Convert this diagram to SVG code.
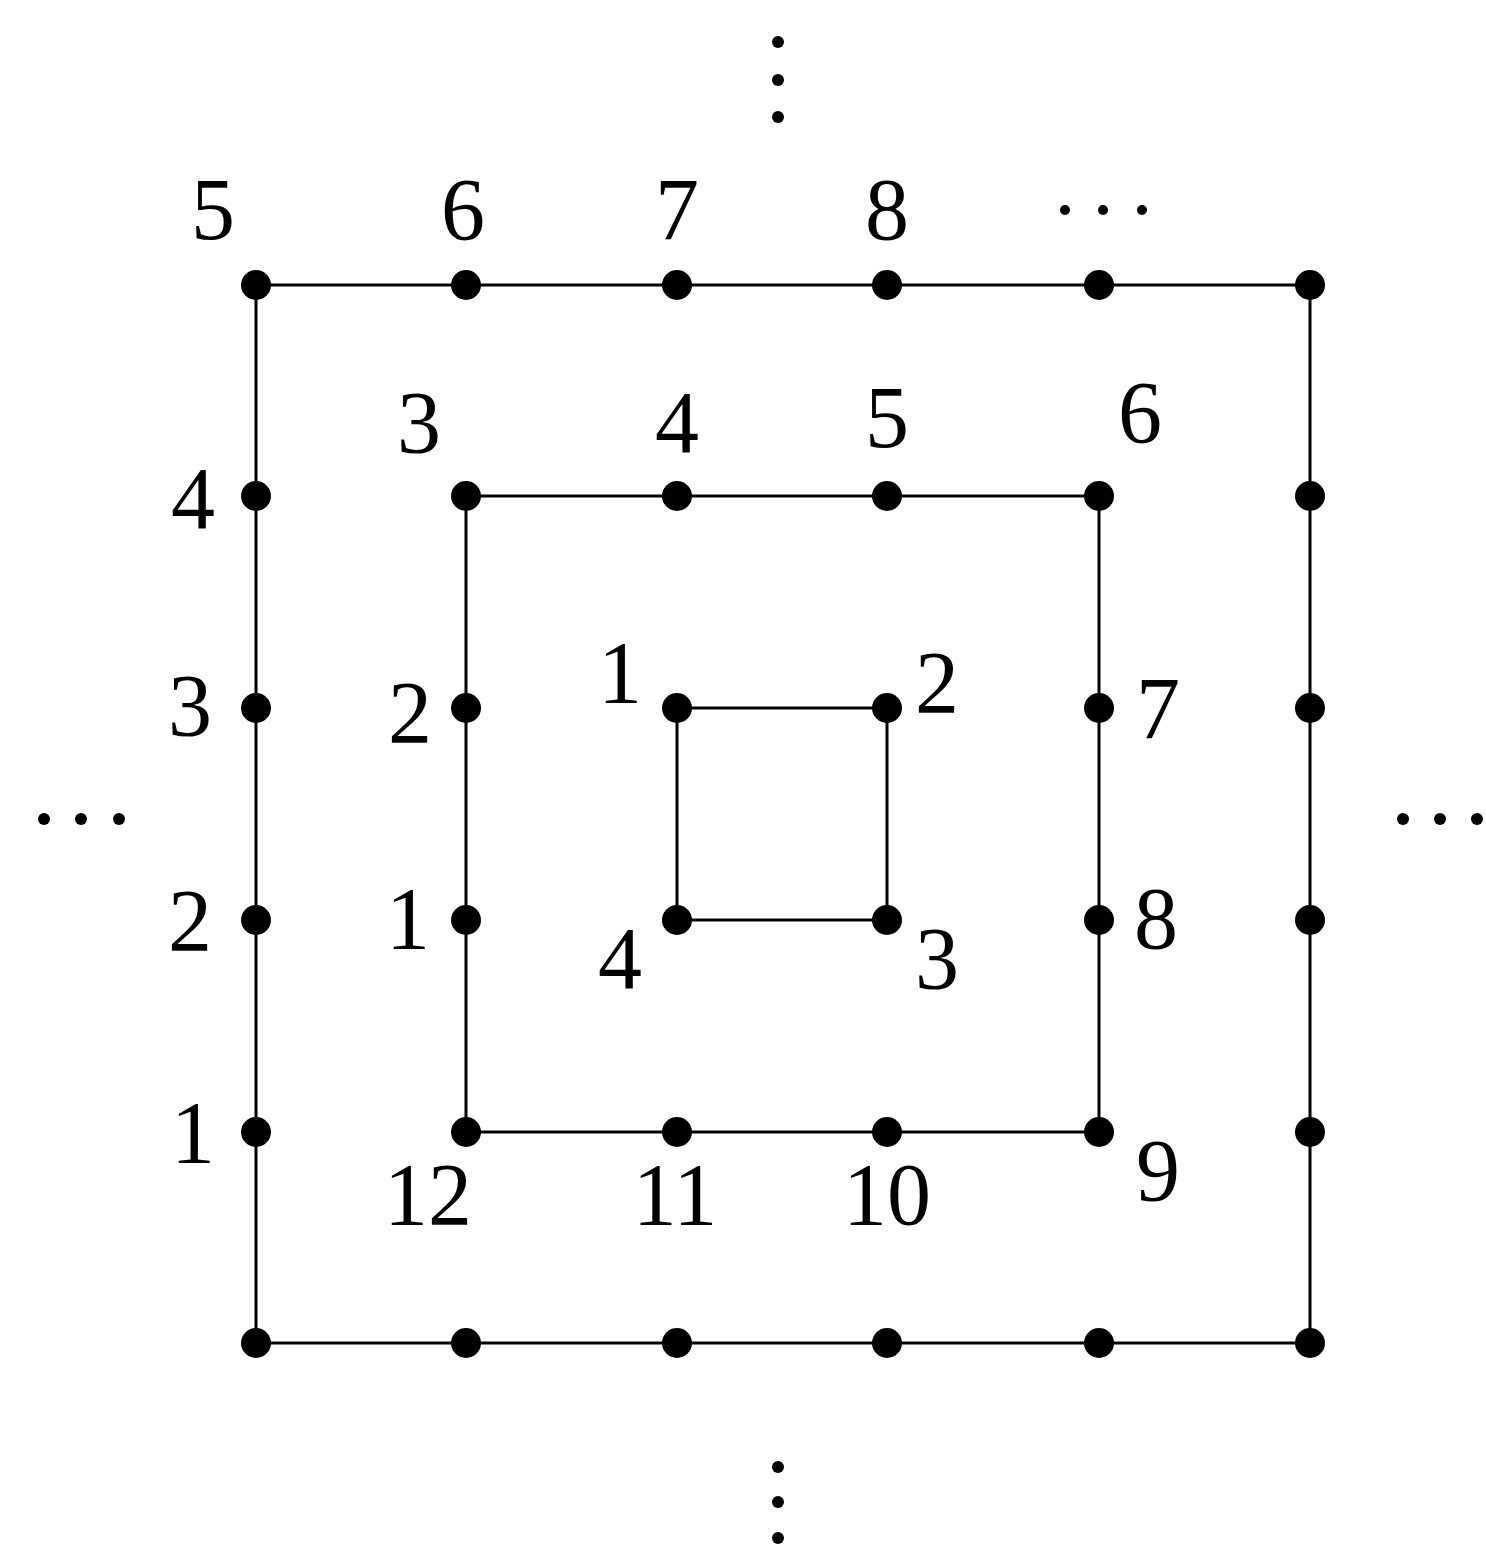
<svg xmlns="http://www.w3.org/2000/svg" width="1486" height="1564" viewBox="0 0 1486 1564">
<style>
.e{fill:none;stroke:#000;stroke-width:3}
.d{fill:#000}
.s{fill:#000}
text{font-family:"Liberation Serif","DejaVu Serif",serif;font-size:88px;fill:#000;text-anchor:middle}
</style>
<rect width="1486" height="1564" fill="#fff"/>
<g id="connectors">
<rect class="e" x="256" y="285" width="1054" height="1058"/>
<rect class="e" x="466" y="496" width="633" height="636"/>
<rect class="e" x="677" y="708" width="210" height="212"/>
</g>
<g id="outer-square">
<g id="o-top"><circle class="d" cx="256" cy="285" r="15"/><circle class="d" cx="466" cy="285" r="15"/><circle class="d" cx="677" cy="285" r="15"/><circle class="d" cx="887" cy="285" r="15"/><circle class="d" cx="1099" cy="285" r="15"/><circle class="d" cx="1310" cy="285" r="15"/></g>
<g id="o-bottom"><circle class="d" cx="256" cy="1343" r="15"/><circle class="d" cx="466" cy="1343" r="15"/><circle class="d" cx="677" cy="1343" r="15"/><circle class="d" cx="887" cy="1343" r="15"/><circle class="d" cx="1099" cy="1343" r="15"/><circle class="d" cx="1310" cy="1343" r="15"/></g>
<g id="o-left"><circle class="d" cx="256" cy="496" r="15"/><circle class="d" cx="256" cy="708" r="15"/><circle class="d" cx="256" cy="920" r="15"/><circle class="d" cx="256" cy="1132" r="15"/></g>
<g id="o-right"><circle class="d" cx="1310" cy="496" r="15"/><circle class="d" cx="1310" cy="708" r="15"/><circle class="d" cx="1310" cy="920" r="15"/><circle class="d" cx="1310" cy="1132" r="15"/></g>
<g id="o-labels">
<text x="213" y="239">5</text><text x="463" y="239">6</text><text x="677" y="239">7</text><text x="887" y="239">8</text>
<text x="193" y="528">4</text><text x="190" y="735">3</text><text x="190" y="950">2</text><text x="193" y="1162">1</text>
</g>
</g>
<g id="middle-square">
<g id="m-dots">
<circle class="d" cx="466" cy="496" r="15"/><circle class="d" cx="677" cy="496" r="15"/><circle class="d" cx="887" cy="496" r="15"/><circle class="d" cx="1099" cy="496" r="15"/>
<circle class="d" cx="466" cy="708" r="15"/><circle class="d" cx="466" cy="920" r="15"/><circle class="d" cx="1099" cy="708" r="15"/><circle class="d" cx="1099" cy="920" r="15"/>
<circle class="d" cx="466" cy="1132" r="15"/><circle class="d" cx="677" cy="1132" r="15"/><circle class="d" cx="887" cy="1132" r="15"/><circle class="d" cx="1099" cy="1132" r="15"/>
</g>
<g id="m-labels">
<text x="419" y="452">3</text><text x="677" y="452">4</text><text x="887" y="447">5</text><text x="1140" y="442">6</text>
<text x="410" y="742">2</text><text x="408" y="948">1</text><text x="1158" y="738">7</text><text x="1156" y="948">8</text>
<text x="1158" y="1200">9</text><text x="428" y="1224">12</text><text x="675" y="1224">11</text><text x="887" y="1224">10</text>
</g>
</g>
<g id="inner-square">
<circle class="d" cx="677" cy="708" r="15"/><circle class="d" cx="887" cy="708" r="15"/><circle class="d" cx="887" cy="920" r="15"/><circle class="d" cx="677" cy="920" r="15"/>
<text x="620" y="702">1</text><text x="937" y="712">2</text><text x="937" y="988">3</text><text x="620" y="988">4</text>
</g>
<g id="ellipses">
<circle class="s" cx="778" cy="42" r="6"/><circle class="s" cx="778" cy="80" r="6"/><circle class="s" cx="778" cy="117" r="6"/>
<circle class="s" cx="778" cy="1467" r="6"/><circle class="s" cx="778" cy="1502" r="6"/><circle class="s" cx="778" cy="1538" r="6"/>
<circle class="s" cx="44" cy="819" r="6"/><circle class="s" cx="81" cy="819" r="6"/><circle class="s" cx="119" cy="819" r="6"/>
<circle class="s" cx="1403" cy="819" r="6"/><circle class="s" cx="1440" cy="819" r="6"/><circle class="s" cx="1477" cy="819" r="6"/>
<circle class="s" cx="1065" cy="210" r="5"/><circle class="s" cx="1103" cy="210" r="5"/><circle class="s" cx="1142" cy="210" r="5"/>
</g>
</svg>
